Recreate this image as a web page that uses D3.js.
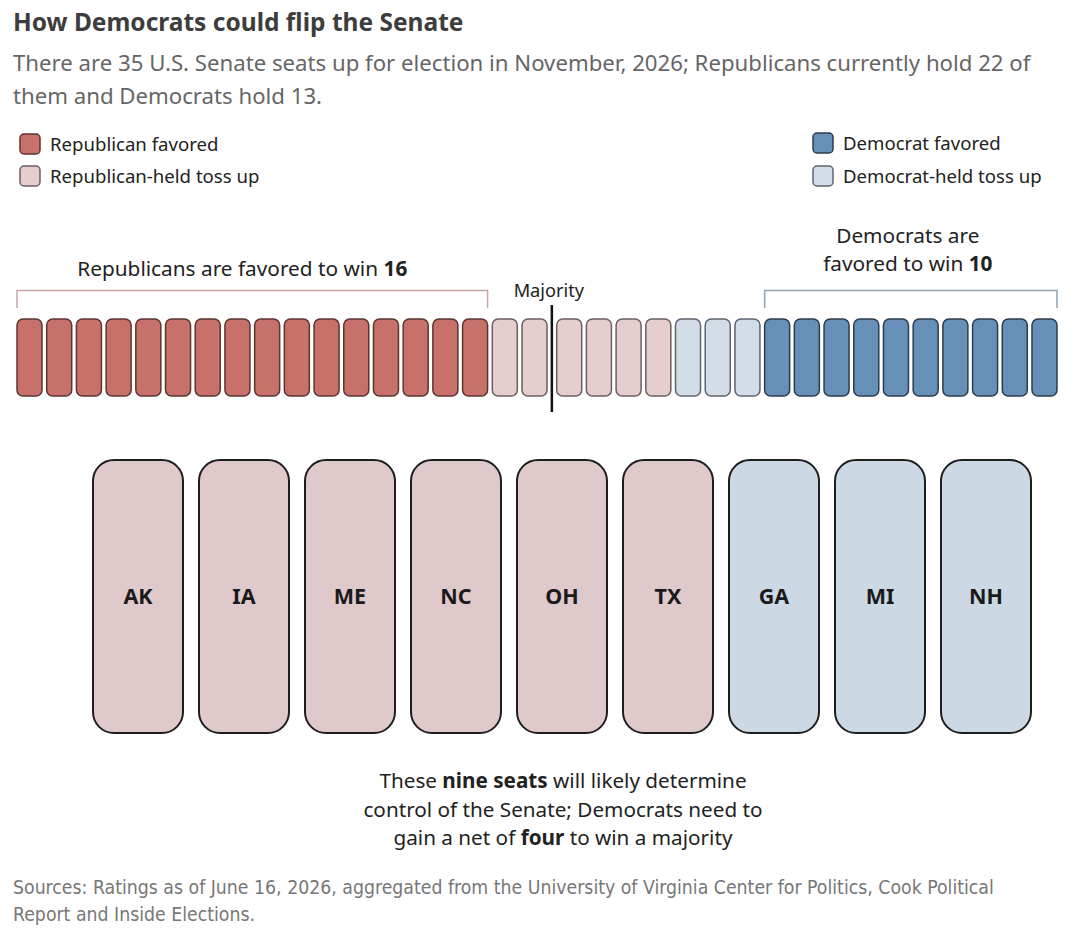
<!DOCTYPE html>
<html>
<head>
  <title>How Democrats could flip the Senate</title>
  <script src="https://d3js.org/d3.v7.min.js"></script>
  <style>
    body { margin: 0; background: #fff; }
    text { font-family: "Noto Sans", "Open Sans", sans-serif; }
    .source { font-family: "Liberation Sans Narrow", "DejaVu Sans Condensed", sans-serif; }
  </style>
</head>
<body>
<svg width="1080" height="946"></svg>
<script>
  // Seat groups, in order along the row
  const groups = ["Republican favored", "Republican-held toss up", "Democrat-held toss up", "Democrat favored"];
  const groupCounts = [16, 6, 3, 10];
  const groupColors = ["#c8706a", "#e6cdce", "#d3dde7", "#6790b9"];
  const groupStrokes = ["#5b3532", "#6b5f60", "#5d6470", "#2d3c4d"];
  const majorityAfter = 18; // seats left of the majority line

  // The nine toss-up races
  const tossStates = ["AK", "IA", "ME", "NC", "OH", "TX", "GA", "MI", "NH"];
  const tossParty = ["R", "R", "R", "R", "R", "R", "D", "D", "D"];
  const tossColors = { R: "#e0c9cb", D: "#ccd8e3" };

  const svg = d3.select("svg");

  // Title and subtitle
  svg.append("text").attr("x", 13).attr("y", 31)
    .style("font-size", "24.5px").style("font-weight", "700").attr("fill", "#3d3d3d")
    .text("How Democrats could flip the Senate");
  const subLines = ["There are 35 U.S. Senate seats up for election in November, 2026; Republicans currently hold 22 of",
                    "them and Democrats hold 13."];
  svg.append("g").selectAll("text").data(subLines).join("text")
    .attr("x", 13).attr("y", (d, i) => 71 + i * 33)
    .style("font-size", "22.2px").attr("fill", "#666")
    .text(d => d);

  // Legend
  const legendPos = [[20, 144], [20, 176], [813, 176], [813, 143]];
  const legend = svg.append("g").selectAll("g").data(groups).join("g")
    .attr("transform", (d, i) => `translate(${legendPos[i][0]},${legendPos[i][1]})`);
  legend.append("rect").attr("x", 0).attr("y", -10).attr("width", 20).attr("height", 20).attr("rx", 4)
    .attr("fill", (d, i) => groupColors[i]).attr("stroke", (d, i) => groupStrokes[i]).attr("stroke-width", 1.5);
  legend.append("text").attr("x", 30).attr("y", 0).attr("dy", "0.35em")
    .style("font-size", "18.6px").attr("fill", "#222").text(d => d);

  // Seat row
  const seats = [];
  groupCounts.forEach((n, g) => { for (let k = 0; k < n; k++) seats.push(g); });
  const gapExtra = 5;
  const x = d3.scaleBand().domain(d3.range(seats.length)).range([17, 1057 - gapExtra]).paddingInner(0.158);
  const sx = i => x(i) + (i >= majorityAfter ? gapExtra : 0);
  const seatTop = 319, seatH = 77;

  svg.append("g").selectAll("rect").data(seats).join("rect")
    .attr("x", (d, i) => sx(i)).attr("y", seatTop)
    .attr("width", x.bandwidth()).attr("height", seatH).attr("rx", 6)
    .attr("fill", d => groupColors[d]).attr("stroke", d => groupStrokes[d]).attr("stroke-width", 1.5);

  // Majority line
  const majX = (sx(majorityAfter - 1) + x.bandwidth() + sx(majorityAfter)) / 2;
  svg.append("line").attr("x1", majX).attr("x2", majX).attr("y1", 305).attr("y2", 412)
    .attr("stroke", "#111").attr("stroke-width", 2.5);
  svg.append("text").attr("x", majX - 3).attr("y", 297).attr("text-anchor", "middle")
    .style("font-size", "18.2px").attr("fill", "#222").text("Majority");

  // Brackets
  const repEnd = groupCounts[0] - 1;
  const demStart = seats.length - groupCounts[3];
  const brackets = [
    { x0: sx(0), x1: sx(repEnd) + x.bandwidth(), color: "#c9a6a6" },
    { x0: sx(demStart), x1: sx(seats.length - 1) + x.bandwidth(), color: "#8ea3b4" }
  ];
  svg.append("g").selectAll("path").data(brackets).join("path")
    .attr("d", d => `M${d.x0},308V290.5H${d.x1}V308`)
    .attr("fill", "none").attr("stroke", d => d.color).attr("stroke-width", 1.5);

  const repLabel = svg.append("text").attr("x", (brackets[0].x0 + brackets[0].x1) / 2 - 10).attr("y", 276)
    .attr("text-anchor", "middle").style("font-size", "20.8px").attr("fill", "#222");
  repLabel.append("tspan").text("Republicans are favored to win ");
  repLabel.append("tspan").style("font-weight", "700").text(groupCounts[0]);

  const demX = (brackets[1].x0 + brackets[1].x1) / 2 - 3;
  svg.append("text").attr("x", demX).attr("y", 243).attr("text-anchor", "middle")
    .style("font-size", "20.8px").attr("fill", "#222").text("Democrats are");
  const demLabel = svg.append("text").attr("x", demX).attr("y", 271).attr("text-anchor", "middle")
    .style("font-size", "20.8px").attr("fill", "#222");
  demLabel.append("tspan").text("favored to win ");
  demLabel.append("tspan").style("font-weight", "700").text(groupCounts[3]);

  // Toss-up boxes
  const bx = d3.scaleBand().domain(tossStates).range([93, 1031]).paddingInner(0.151);
  const boxTop = 460, boxH = 273;
  const boxes = svg.append("g").selectAll("g").data(tossStates).join("g")
    .attr("transform", d => `translate(${bx(d)},${boxTop})`);
  boxes.append("rect").attr("width", bx.bandwidth()).attr("height", boxH).attr("rx", 21)
    .attr("fill", (d, i) => tossColors[tossParty[i]]).attr("stroke", "#1e1e1e").attr("stroke-width", 2);
  boxes.append("text").attr("x", bx.bandwidth() / 2).attr("y", boxH / 2).attr("dy", "0.35em")
    .attr("text-anchor", "middle").style("font-size", "21.5px").style("font-weight", "700")
    .attr("fill", "#1a1a1a").text(d => d);

  // Note under the boxes
  const note = [
    [["These ", false], ["nine seats", true], [" will likely determine", false]],
    [["control of the Senate; Democrats need to", false]],
    [["gain a net of ", false], ["four", true], [" to win a majority", false]]
  ];
  svg.append("g").selectAll("text").data(note).join("text")
    .attr("x", 563).attr("y", (d, i) => 788 + i * 28.5).attr("text-anchor", "middle")
    .style("font-size", "20.7px").attr("fill", "#222")
    .selectAll("tspan").data(d => d).join("tspan")
    .style("font-weight", d => d[1] ? "700" : "400").text(d => d[0]);

  // Source
  const srcLines = ["Sources: Ratings as of June 16, 2026, aggregated from the University of Virginia Center for Politics, Cook Political",
                    "Report and Inside Elections."];
  svg.append("g").selectAll("text").data(srcLines).join("text")
    .attr("class", "source").attr("x", 13).attr("y", (d, i) => 894 + i * 27)
    .style("font-size", "19.3px").attr("fill", "#777").text(d => d);
</script>
</body>
</html>
